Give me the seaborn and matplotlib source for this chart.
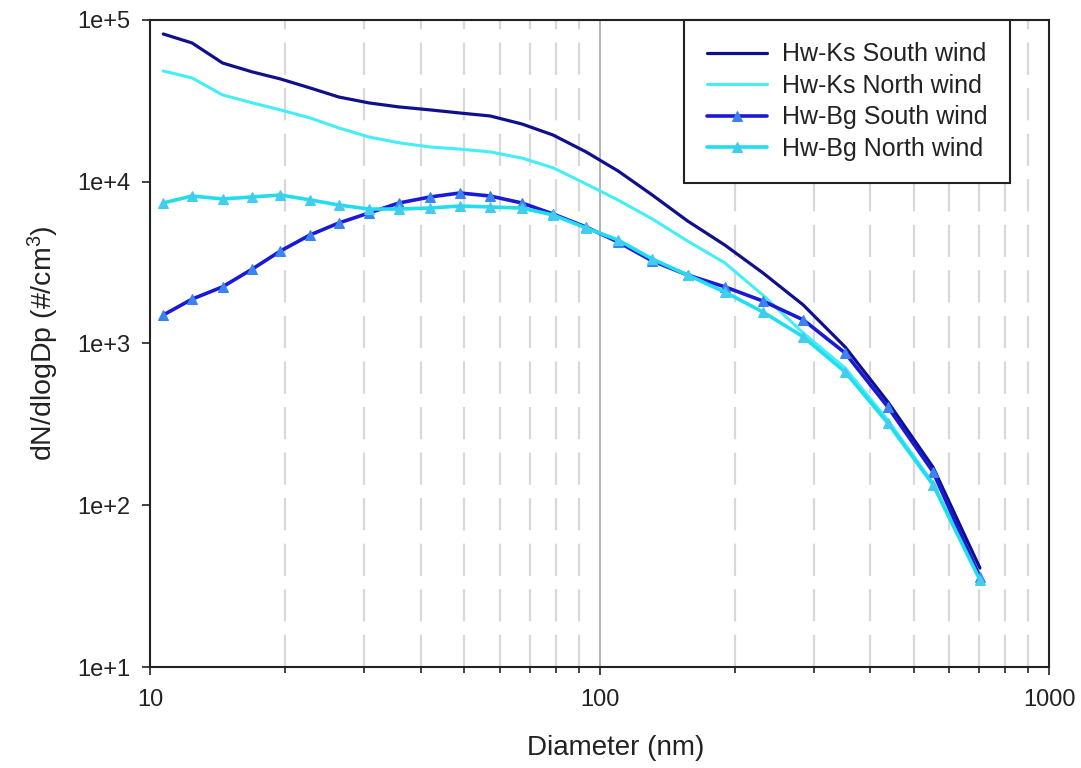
import numpy as np
import pandas as pd
import matplotlib
matplotlib.use("Agg")
import matplotlib.pyplot as plt
from matplotlib.ticker import FuncFormatter, LogLocator, NullLocator
import seaborn as sns

# particle diameter bins (nm)
diameter = [10.7, 12.4, 14.5, 16.9, 19.5, 22.7, 26.3, 30.7, 35.8, 42.0, 48.9, 57.1,
            67.2, 78.8, 93.3, 110, 131, 157, 190, 231, 284, 352, 438, 552, 702]

# dN/dlogDp (#/cm3)
ks_south = [81900, 72100, 54200, 47700, 43200, 38000, 33400, 30700, 29000, 27800,
            26600, 25500, 22750, 19450, 15300, 11650, 8280, 5720, 4060, 2730,
            1730, 951, 435, 172, 40.9]
ks_north = [48400, 43800, 34400, 30700, 27800, 24800, 21500, 18900, 17400, 16400,
            15900, 15300, 14000, 12200, 9700, 7700, 5890, 4300, 3150, 1990,
            1160, 705, 336, 137, 35.5]
bg_south = [1500, 1880, 2240, 2890, 3730, 4690, 5560, 6410, 7390, 8050,
            8520, 8160, 7390, 6320, 5250, 4240, 3240, 2650, 2240, 1830,
            1400, 873, 405, 161, 36]
bg_north = [7390, 8160, 7830, 8050, 8280, 7720, 7180, 6780, 6780, 6880,
            7080, 6980, 6880, 6230, 5180, 4360, 3330, 2650, 2080, 1565,
            1100, 666, 322, 134, 34.5]

labels = ["Hw-Ks South wind", "Hw-Ks North wind", "Hw-Bg South wind", "Hw-Bg North wind"]

sns.set_theme(style="white")
plt.rcParams['font.family'] = ['Liberation Sans', 'DejaVu Sans']
plt.rcParams['mathtext.fontset'] = 'custom'
plt.rcParams['mathtext.rm'] = 'Liberation Sans'
plt.rcParams['mathtext.it'] = 'Liberation Sans:italic'

fig = plt.figure(figsize=(10.81, 7.68), dpi=100)
ax = fig.add_axes([0.1388, 0.1315, 0.8316, 0.8425])

fs = 17
ink = '#222222'

sns.lineplot(x=diameter, y=ks_south, ax=ax, color='#10108C', lw=2.3,
             estimator=None, label=labels[0])
sns.lineplot(x=diameter, y=ks_north, ax=ax, color='#44EEF6', lw=2.2,
             estimator=None, label=labels[1])
sns.lineplot(x=diameter, y=bg_south, ax=ax, color='#1A1AD6', lw=2.6,
             estimator=None, label=labels[2], marker='^', markersize=6.5,
             markerfacecolor='#3C82F0', markeredgecolor='#3C82F0', markeredgewidth=0.8)
sns.lineplot(x=diameter, y=bg_north, ax=ax, color='#22DDEE', lw=2.6,
             estimator=None, label=labels[3], marker='^', markersize=6.5,
             markerfacecolor='#44CCEE', markeredgecolor='#44CCEE', markeredgewidth=0.8)

ax.set_xscale('log')
ax.set_yscale('log')
ax.set_xlim(10, 1000)
ax.set_ylim(10, 1e5)

ax.xaxis.set_major_locator(LogLocator(base=10))
ax.xaxis.set_minor_locator(LogLocator(base=10, subs=np.arange(2, 10)))
ax.xaxis.set_major_formatter(FuncFormatter(lambda v, p: f"{v:.0f}"))
ax.xaxis.set_minor_formatter(FuncFormatter(lambda v, p: ""))
ax.yaxis.set_major_locator(LogLocator(base=10))
ax.yaxis.set_minor_locator(NullLocator())
ax.yaxis.set_major_formatter(FuncFormatter(lambda v, p: f"1e+{int(round(np.log10(v)))}"))

# vertical grid: dashed minor, solid major
ax.grid(False)
ax.xaxis.grid(True, which='minor', color='#D8D8D8', lw=1.6, ls=(0, (14.5, 6)))
ax.xaxis.grid(True, which='major', color='#B4B4B4', lw=1.4, ls='-')
ax.yaxis.grid(False)
ax.set_axisbelow(True)

for s in ax.spines.values():
    s.set_color(ink)
    s.set_linewidth(1.5)

ax.tick_params(axis='x', which='major', direction='out', length=6, width=1.2,
               color=ink, labelsize=fs, pad=10, bottom=True)
ax.tick_params(axis='x', which='minor', direction='out', length=4, width=1.2,
               color=ink, bottom=True)
ax.tick_params(axis='y', which='major', direction='out', length=6, width=1.2,
               color=ink, labelsize=fs, pad=8, left=True)
ax.tick_params(colors=ink, which='both')

ax.set_xlabel("Diameter (nm)", fontsize=20, color=ink)
ax.xaxis.set_label_coords(0.518, -0.105)
ax.set_ylabel("dN/dlogDp (#/cm$^3$)", fontsize=20.5, labelpad=12, color=ink)

leg = ax.legend(loc='upper right', bbox_to_anchor=(0.9566, 1.0), borderaxespad=0,
                fontsize=18, frameon=True, fancybox=False, shadow=False,
                handlelength=2.4, handletextpad=0.6, labelspacing=0.3,
                borderpad=0.9, numpoints=1)
leg.get_frame().set_edgecolor(ink)
leg.get_frame().set_linewidth(1.5)
leg.get_frame().set_alpha(1)
for t in leg.get_texts():
    t.set_color(ink)

fig.savefig("out.png", dpi=100)
